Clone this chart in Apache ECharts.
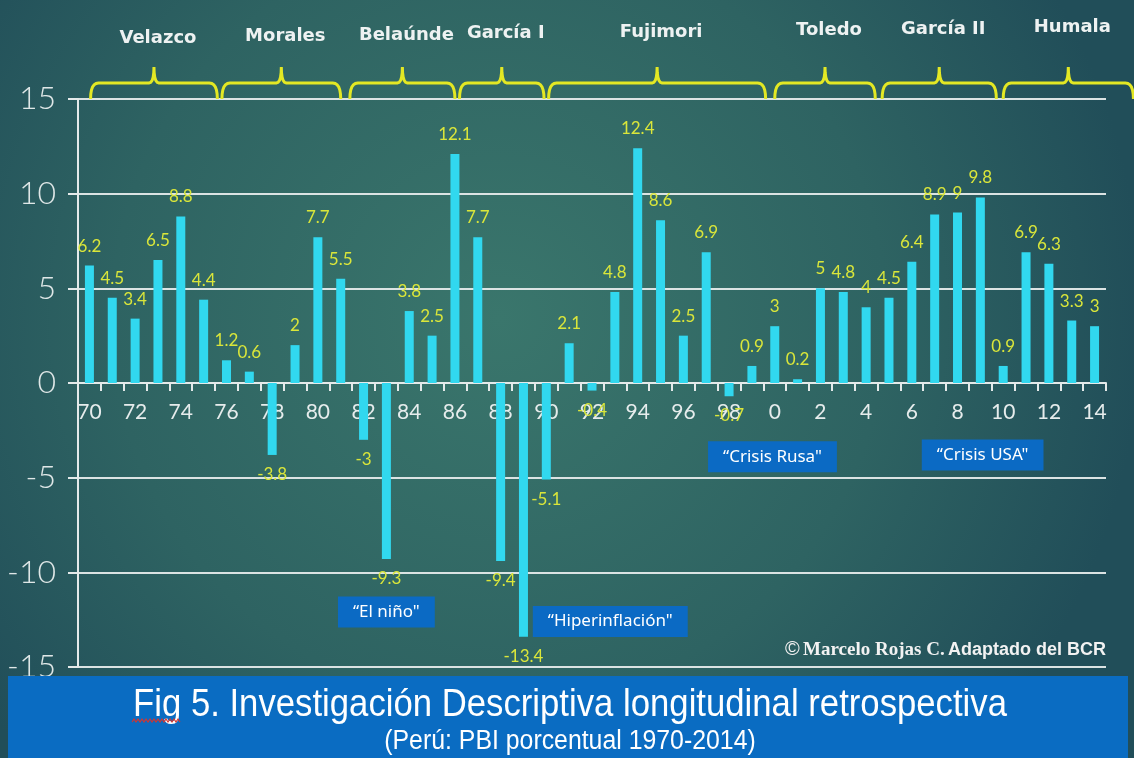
<!DOCTYPE html>
<html>
<head>
<meta charset="utf-8">
<script src="https://cdn.jsdelivr.net/npm/echarts@6/dist/echarts.min.js"></script>
<style>
  html, body { margin: 0; padding: 0; background: #1f4b56; }
  #chart { width: 1134px; height: 758px; }
</style>
</head>
<body>
<div id="chart"></div>
<script>
// years as printed on the axis (two digits, 2000s without leading zero)
const years = ['70','71','72','73','74','75','76','77','78','79',
  '80','81','82','83','84','85','86','87','88','89',
  '90','91','92','93','94','95','96','97','98','99',
  '0','1','2','3','4','5','6','7','8','9',
  '10','11','12','13','14']
// PBI % growth
const growth = [6.2, 4.5, 3.4, 6.5, 8.8, 4.4, 1.2, 0.6, -3.8, 2,
  7.7, 5.5, -3, -9.3, 3.8, 2.5, 12.1, 7.7, -9.4, -13.4,
  -5.1, 2.1, -0.4, 4.8, 12.4, 8.6, 2.5, 6.9, -0.7, 0.9,
  3, 0.2, 5, 4.8, 4, 4.5, 6.4, 8.9, 9, 9.8,
  0.9, 6.9, 6.3, 3.3, 3]
const yTicks = [-15, -10, -5, 0, 5, 10, 15]

// government periods (brace spans, in years)
const periodNames = ['Velazco', 'Morales', 'Belaúnde', 'García I', 'Fujimori', 'Toledo', 'García II', 'Humala']
const periodStart = [1970.05, 1975.8, 1981.4, 1986.2, 1990.1, 2000.0, 2004.7, 2010.0]
const periodEnd = [1975.6, 1981.0, 1986.0, 1989.9, 1999.6, 2004.4, 2009.7, 2015.7]

const noteTexts = ['“El niño"', '“Hiperinflación"', '“Crisis Rusa"', '“Crisis USA"']

const chart = echarts.init(document.getElementById('chart'))

const axisColor = '#e4eaea'

const option = {
  animation: false,
  backgroundColor: new echarts.graphic.RadialGradient(0.44, 0.42, 0.85, [
    { offset: 0, color: '#3a766c' },
    { offset: 0.6, color: '#2e6362' },
    { offset: 1, color: '#214e59' },
  ]),
  grid: { left: 78, right: 28, top: 99, bottom: 91 },
  xAxis: {
    type: 'category',
    data: years,
    axisLine: { onZero: false, lineStyle: { color: axisColor, width: 2 } },
    axisTick: { show: true, interval: 0, length: 8, lineStyle: { color: axisColor, width: 2 } },
    axisLabel: {
      interval: 1,
      color: '#e6ecec',
      fontFamily: 'Lato',
      fontSize: 21,
      margin: 19,
    },
  },
  yAxis: {
    type: 'value',
    min: yTicks[0],
    max: yTicks[yTicks.length - 1],
    interval: 5,
    axisLine: { show: true, lineStyle: { color: axisColor, width: 2 } },
    axisTick: { show: true, length: 10, lineStyle: { color: axisColor, width: 2 } },
    splitLine: { lineStyle: { color: '#dbe3e3', width: 2 } },
    axisLabel: {
      color: '#dfe7e7',
      fontFamily: 'Lato',
      fontWeight: 300,
      fontSize: 32,
      margin: 22,
    },
  },
  series: [
    {
      type: 'bar',
      // negative bars carry their value underneath
      data: growth.map(v => ({ value: v, label: { position: v < 0 ? 'bottom' : 'top' } })),
      barWidth: 9,
      itemStyle: { color: '#31d8ef' },
      label: {
        show: true,
        distance: 11,
        color: '#dae63a',
        fontFamily: 'Lato',
        fontSize: 17,
      },
    },
  ],
}

chart.setOption(option)

const px = (i, v) => chart.convertToPixel({ xAxisIndex: 0, yAxisIndex: 0 }, [i, v])

// move the whole category axis (line, ticks, labels) up to the zero line
chart.setOption({ xAxis: { offset: px(0, 0)[1] - px(0, yTicks[0])[1] } })

const step = px(1, 0)[0] - px(0, 0)[0]
const xOfYear = yr => px(0, 0)[0] + (yr - 1970) * step
const gridTop = px(0, yTicks[yTicks.length - 1])[1]

// quadratic bezier sampled into polyline points
function quad(p0, p1, p2, n) {
  const pts = []
  for (let k = 1; k <= n; k++) {
    const t = k / n
    const a = (1 - t) * (1 - t), b = 2 * t * (1 - t), c = t * t
    pts.push([a * p0[0] + b * p1[0] + c * p2[0], a * p0[1] + b * p1[1] + c * p2[1]])
  }
  return pts
}

function bracePoints(l, r, top, bot, nub) {
  const c = (l + r) / 2
  let pts = [[l, bot]]
  pts = pts.concat(quad([l, bot], [l, top], [l + 8, top], 6))
  pts.push([c - 5, top])
  pts = pts.concat(quad([c - 5, top], [c, top], [c, nub], 5))
  pts = pts.concat(quad([c, nub], [c, top], [c + 5, top], 5))
  pts.push([r - 8, top])
  pts = pts.concat(quad([r - 8, top], [r, top], [r, bot], 6))
  return pts
}

const graphics = []

periodNames.forEach((name, i) => {
  const l = xOfYear(periodStart[i])
  const r = xOfYear(periodEnd[i])
  graphics.push({
    type: 'polyline',
    shape: { points: bracePoints(l, r, gridTop - 16, gridTop, gridTop - 32) },
    style: { stroke: '#e3e824', lineWidth: 3, fill: null },
    z: 10,
  })
  // names drift slightly upward from left to right, as on the slide
  graphics.push({
    type: 'text',
    x: (l + r) / 2 + 4,
    y: 38 - i * 1.5,
    style: {
      text: name,
      fill: '#eef2f2',
      font: 'bold 18px "DejaVu Sans"',
      align: 'center',
      verticalAlign: 'middle',
    },
    z: 10,
  })
})

// annotation boxes, anchored in data space: [category index, value]
const noteAnchors = [[13.0, -12.1], [22.8, -12.6], [29.9, -3.9], [39.1, -3.8]]
noteTexts.forEach((t, i) => {
  const [a, v] = noteAnchors[i]
  graphics.push({
    type: 'text',
    x: px(0, 0)[0] + a * step,
    y: px(0, v)[1],
    style: {
      text: t,
      fill: '#ffffff',
      font: '17px "Noto Sans"',
      align: 'center',
      verticalAlign: 'middle',
      backgroundColor: '#0b6ac4',
      padding: [7, 15, 7, 15],
    },
    z: 10,
  })
})

// source credit
graphics.push({
  type: 'text',
  x: px(years.length - 1, 0)[0] + step / 2,
  y: px(0, -14.1)[1],
  style: {
    text: '{a|©} {b|Marcelo Rojas C.} {c|Adaptado del BCR}',
    align: 'right',
    verticalAlign: 'middle',
    rich: {
      a: { fill: '#f2f2f2', font: '20px "Liberation Sans"' },
      b: { fill: '#f2f2f2', font: 'bold 19px "Liberation Serif"' },
      c: { fill: '#f2f2f2', font: 'bold 18px "Liberation Sans"' },
    },
  },
  z: 10,
})

// caption banner
graphics.push({
  type: 'rect',
  shape: { x: 8, y: 676, width: 1120, height: 82 },
  style: { fill: '#0a6cc2' },
  z: 20,
})
graphics.push({
  type: 'text',
  x: 570,
  y: 705,
  scaleX: 0.89,
  style: {
    text: 'Fig 5. Investigación Descriptiva longitudinal retrospectiva',
    fill: '#ffffff',
    font: '39px "Liberation Sans", sans-serif',
    align: 'center',
    verticalAlign: 'middle',
  },
  z: 21,
})
graphics.push({
  type: 'text',
  x: 570,
  y: 742,
  scaleX: 0.92,
  style: {
    text: '(Perú: PBI porcentual 1970-2014)',
    fill: '#ffffff',
    font: '27px "Liberation Sans", sans-serif',
    align: 'center',
    verticalAlign: 'middle',
  },
  z: 21,
})

// spell-check squiggle under "Fig"
const wave = [[132, 722]]
for (let x = 132; x < 180; x += 4) wave.push([x + 2, 719], [x + 4, 722])
graphics.push({
  type: 'polyline',
  shape: { points: wave },
  style: { stroke: '#d8342c', lineWidth: 1.2, fill: null },
  z: 22,
})

chart.setOption({ graphic: graphics })
</script>
</body>
</html>
